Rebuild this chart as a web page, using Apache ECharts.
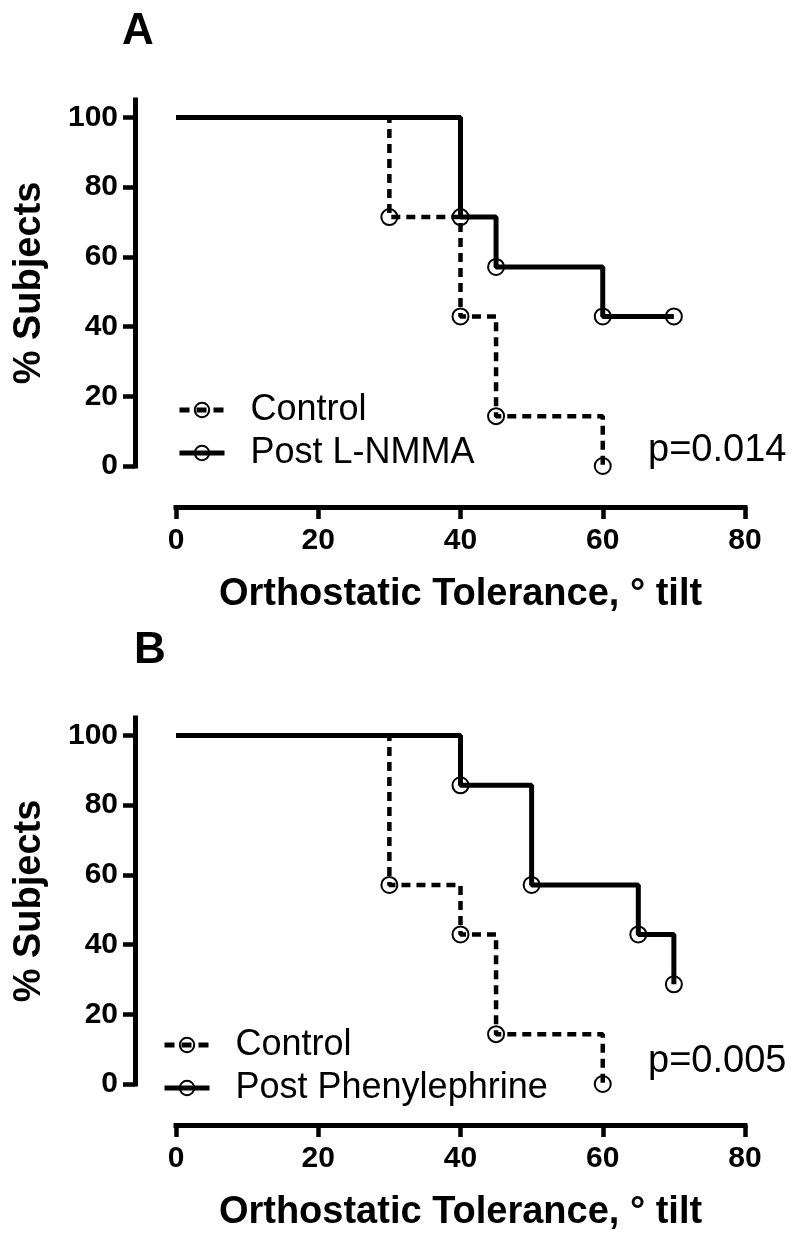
<!DOCTYPE html>
<html>
<head>
<meta charset="utf-8">
<script src="https://cdn.jsdelivr.net/npm/echarts@6/dist/echarts.min.js"></script>
<style>html,body{margin:0;padding:0;background:#fff;}#c{width:800px;height:1242px;}</style>
</head>
<body>
<div id="c"></div>
<script>
// ---- data ----
const xTicks = [0, 20, 40, 60, 80];
const yTicks = [0, 20, 40, 60, 80, 100];
const aControlX = [0, 30, 40, 45, 60];
const aControlY = [100, 71.4, 42.9, 14.3, 0];
const aLnmmaX = [0, 40, 45, 60, 70];
const aLnmmaY = [100, 71.4, 57.1, 42.9, 42.9];
const bControlX = [0, 30, 40, 45, 60];
const bControlY = [100, 57.1, 42.9, 14.3, 0];
const bPheX = [0, 40, 50, 65, 70];
const bPheY = [100, 85.7, 57.1, 42.9, 28.6];
const panelLabels = ['A', 'B'];
const pValues = ['p=0.014', 'p=0.005'];
const xTitle = 'Orthostatic Tolerance, \u00B0 tilt';
const yTitle = '% Subjects';

const FONT = '"Liberation Sans", Arial, Helvetica, sans-serif';
const chart = echarts.init(document.getElementById('c'), null, {renderer: 'canvas'});

function pts(xs, ys) {
  return xs.map((x, i) => i === 0 ? {value: [x, ys[i]], symbol: 'none'} : [x, ys[i]]);
}

const panelTop = [100, 718];
const grids = panelTop.map(t => ({left: 176, width: 569, top: t, height: 366}));

const xAxes = grids.map((g, i) => ({
  type: 'value', gridIndex: i, min: 0, max: 80, interval: 20,
  position: 'bottom', offset: 41,
  name: xTitle, nameLocation: 'middle', nameGap: 69,
  nameTextStyle: {fontFamily: FONT, fontWeight: 'bold', fontSize: 38, color: '#000'},
  axisLine: {show: true, onZero: false, lineStyle: {color: '#000', width: 5, cap: 'square'}},
  axisTick: {show: true, length: 12, customValues: xTicks, lineStyle: {color: '#000', width: 4.5}},
  axisLabel: {margin: 19, customValues: xTicks, fontFamily: FONT, fontWeight: 'bold', fontSize: 30, color: '#000'},
  splitLine: {show: false}
}));

const yAxes = grids.map((g, i) => ({
  type: 'value', gridIndex: i, min: 0, max: 105, interval: 20,
  position: 'left', offset: 41,
  name: yTitle, nameLocation: 'middle', nameGap: 86, nameRotate: 90,
  nameTextStyle: {fontFamily: FONT, fontWeight: 'bold', fontSize: 38, color: '#000'},
  axisLine: {show: true, onZero: false, lineStyle: {color: '#000', width: 5, cap: 'square'}},
  axisTick: {show: true, length: 12, customValues: yTicks, lineStyle: {color: '#000', width: 4.5}},
  axisLabel: {margin: 17, customValues: yTicks, fontFamily: FONT, fontWeight: 'bold', fontSize: 30, color: '#000'},
  splitLine: {show: false}
}));

function mkSeries(name, xs, ys, idx, dashed) {
  return {
    name: name, type: 'line', xAxisIndex: idx, yAxisIndex: idx,
    step: 'end', clip: false,
    data: pts(xs, ys),
    symbol: 'circle', symbolSize: 16, showSymbol: true,
    lineStyle: {color: '#000', width: dashed ? 4.5 : 5, type: dashed ? [9, 6] : 'solid'},
    itemStyle: {color: 'rgba(255,255,255,0)', borderColor: '#000', borderWidth: 2},
    emphasis: {disabled: true},
    z: dashed ? 2 : 3
  };
}

const series = [
  mkSeries('Control', aControlX, aControlY, 0, true),
  mkSeries('Post L-NMMA', aLnmmaX, aLnmmaY, 0, false),
  mkSeries('Control', bControlX, bControlY, 1, true),
  mkSeries('Post Phenylephrine', bPheX, bPheY, 1, false)
];

const legendBase = {
  orient: 'vertical', itemWidth: 45, itemHeight: 18, itemGap: 7,
  selectedMode: false,
  itemStyle: {color: 'rgba(255,255,255,0)', borderColor: '#000', borderWidth: 2},
  lineStyle: {color: '#000', width: 5},
  textStyle: {fontFamily: FONT, fontSize: 36, color: '#000', padding: [0, 0, 0, 21]}
};
function legendData(names) {
  return [
    {name: names[0], lineStyle: {color: '#000', width: 5, type: [10, 7]}},
    {name: names[1], lineStyle: {color: '#000', width: 5, type: 'solid'}}
  ];
}

const option = {
  animation: false,
  backgroundColor: '#fff',
  grid: grids,
  xAxis: xAxes,
  yAxis: yAxes,
  legend: [
    Object.assign({}, legendBase, {left: 172, top: 387, data: legendData(['Control', 'Post L-NMMA'])}),
    Object.assign({}, legendBase, {left: 157, top: 1022, data: legendData(['Control', 'Post Phenylephrine'])})
  ],
  series: series,
  graphic: [
    {type: 'text', left: 122, top: 10, style: {text: panelLabels[0], font: 'bold 44px ' + FONT, fill: '#000'}},
    {type: 'text', left: 134, top: 629, style: {text: panelLabels[1], font: 'bold 44px ' + FONT, fill: '#000'}},
    {type: 'text', left: 648, top: 432, style: {text: pValues[0], font: '38px ' + FONT, fill: '#000'}},
    {type: 'text', left: 648, top: 1043, style: {text: pValues[1], font: '38px ' + FONT, fill: '#000'}}
  ]
};
chart.setOption(option);
</script>
</body>
</html>
